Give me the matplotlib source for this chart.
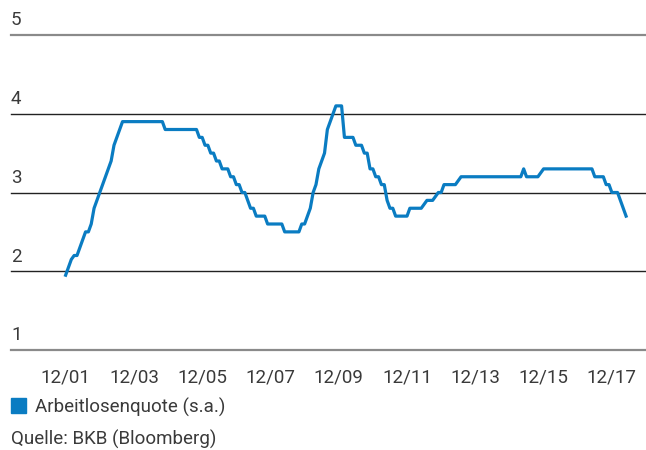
import matplotlib
matplotlib.use("Agg")
import matplotlib.pyplot as plt
from matplotlib.patches import Rectangle
import numpy as np

# monthly Arbeitslosenquote (s.a.), Dec 2001 .. Apr 2018
start_year, start_month = 2001, 12
values = [
    1.95,                                                         # 12/01
    2.05, 2.15, 2.2, 2.2, 2.3, 2.4, 2.5, 2.5, 2.6, 2.8, 2.9, 3.0,  # 2002
    3.1, 3.2, 3.3, 3.4, 3.6, 3.7, 3.8, 3.9, 3.9, 3.9, 3.9, 3.9,    # 2003
    3.9, 3.9, 3.9, 3.9, 3.9, 3.9, 3.9, 3.9, 3.9, 3.9, 3.8, 3.8,    # 2004
    3.8, 3.8, 3.8, 3.8, 3.8, 3.8, 3.8, 3.8, 3.8, 3.8, 3.7, 3.7,    # 2005
    3.6, 3.6, 3.5, 3.5, 3.4, 3.4, 3.3, 3.3, 3.3, 3.2, 3.2, 3.1,    # 2006
    3.1, 3.0, 3.0, 2.9, 2.8, 2.8, 2.7, 2.7, 2.7, 2.7, 2.6, 2.6,    # 2007
    2.6, 2.6, 2.6, 2.6, 2.5, 2.5, 2.5, 2.5, 2.5, 2.5, 2.6, 2.6,    # 2008
    2.7, 2.8, 3.0, 3.1, 3.3, 3.4, 3.5, 3.8, 3.9, 4.0, 4.1, 4.1,    # 2009
    4.1, 3.7, 3.7, 3.7, 3.7, 3.6, 3.6, 3.6, 3.5, 3.5, 3.3, 3.3,    # 2010
    3.2, 3.2, 3.1, 3.1, 2.9, 2.8, 2.8, 2.7, 2.7, 2.7, 2.7, 2.7,    # 2011
    2.8, 2.8, 2.8, 2.8, 2.8, 2.85, 2.9, 2.9, 2.9, 2.95, 3.0, 3.0,  # 2012
    3.1, 3.1, 3.1, 3.1, 3.1, 3.15, 3.2, 3.2, 3.2, 3.2, 3.2, 3.2,   # 2013
    3.2, 3.2, 3.2, 3.2, 3.2, 3.2, 3.2, 3.2, 3.2, 3.2, 3.2, 3.2,    # 2014
    3.2, 3.2, 3.2, 3.2, 3.3, 3.2, 3.2, 3.2, 3.2, 3.2, 3.25, 3.3,   # 2015
    3.3, 3.3, 3.3, 3.3, 3.3, 3.3, 3.3, 3.3, 3.3, 3.3, 3.3, 3.3,    # 2016
    3.3, 3.3, 3.3, 3.3, 3.3, 3.2, 3.2, 3.2, 3.2, 3.1, 3.1, 3.0,    # 2017
    3.0, 3.0, 2.9, 2.8, 2.7,                                       # 2018
]
tick_labels = ["12/01", "12/03", "12/05", "12/07", "12/09",
               "12/11", "12/13", "12/15", "12/17"]
y_ticks = [1, 2, 3, 4, 5]

LINE = "#0a7cc2"
TEXT = "#3a3a3a"
FS = 13.5
plt.rcParams["font.family"] = ["Roboto", "Liberation Sans", "DejaVu Sans"]

months = np.arange(len(values))
tick_pos = months[::24][:len(tick_labels)]

fig = plt.figure(figsize=(6.46, 4.5), dpi=100)
ax = fig.add_axes([11 / 646, 100 / 450, 635 / 646, 315 / 450])

for yv in y_ticks:
    edge = yv in (y_ticks[0], y_ticks[-1])
    ax.axhline(yv, color="#8a8a8a" if edge else "#222222",
               lw=1.6 if edge else 1.0, zorder=1, clip_on=False)
    ax.text(0.0, yv + 0.07, str(yv), transform=ax.get_yaxis_transform(),
            ha="left", va="bottom", fontsize=FS, color=TEXT)

ax.plot(months, values, color=LINE, lw=2.3, solid_joinstyle="round", zorder=3)

ax.set_xlim(-19.2, 204)
ax.set_ylim(1, 5)
ax.set_xticks(tick_pos)
ax.set_xticklabels(tick_labels, fontsize=FS, color=TEXT)
ax.tick_params(axis="x", length=0, pad=13)
ax.set_yticks([])
for s in ax.spines.values():
    s.set_visible(False)

# legend + source
fig.add_artist(Rectangle((11 / 646, (450 - 413) / 450), 15 / 646, 15 / 450,
                         transform=fig.transFigure, color=LINE))
fig.text(35 / 646, (450 - 413) / 450, "Arbeitlosenquote (s.a.)", fontsize=FS,
         color=TEXT, ha="left", va="baseline")
fig.text(11 / 646, (450 - 445) / 450, "Quelle: BKB (Bloomberg)", fontsize=FS,
         color=TEXT, ha="left", va="baseline")

fig.savefig("out.png", dpi=100)
